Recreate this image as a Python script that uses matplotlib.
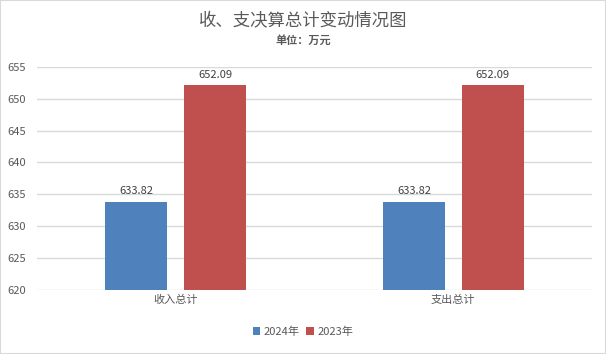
import numpy as np
import matplotlib
matplotlib.use("Agg")
import matplotlib.pyplot as plt
from matplotlib.patches import Rectangle

plt.rcParams['font.family'] = ['Noto Sans CJK SC', 'DejaVu Sans']

categories = ["收入总计", "支出总计"]
series_names = ["2024年", "2023年"]
values_2024 = [633.82, 633.82]
values_2023 = [652.09, 652.09]
colors = ["#4F81BD", "#C0504D"]

text_color = "#595959"
grid_color = "#D9D9D9"

fig = plt.figure(figsize=(6.06, 3.54), dpi=100)
ax = fig.add_axes([0.061, 0.181, 0.916, 0.630])

x = np.arange(len(categories))
width = 0.223
offset = 0.142

for vals, name, color, sign in [(values_2024, series_names[0], colors[0], -1),
                                (values_2023, series_names[1], colors[1], 1)]:
    bars = ax.bar(x + sign * offset, vals, width, color=color, label=name, zorder=3)
    for b, v in zip(bars, vals):
        ax.text(b.get_x() + b.get_width() / 2, v + 0.9, f"{v:.2f}",
                ha="center", va="bottom", fontsize=8, color="#404040")

ax.set_ylim(620, 655)
ax.set_yticks(np.arange(620, 656, 5))
ax.set_xlim(-0.5, 1.5)
ax.set_xticks(x)
ax.set_xticklabels(categories)
ax.tick_params(axis="both", length=0, labelsize=8, colors=text_color)
ax.tick_params(axis="y", pad=8)
ax.grid(axis="y", color=grid_color, linewidth=1, zorder=0)
for s in ax.spines.values():
    s.set_visible(False)

fig.text(0.5, 0.94, "收、支决算总计变动情况图", ha="center", va="center",
         fontsize=12.5, color=text_color)
fig.text(0.5, 0.885, "单位：万元", ha="center", va="center",
         fontsize=8, fontweight="bold", color=text_color)

fig.legend(loc="center", bbox_to_anchor=(0.5, 0.062), ncol=2, frameon=False,
           fontsize=8, handlelength=0.7, handleheight=0.7, handletextpad=0.3,
           columnspacing=0.6, labelcolor=text_color)

fig.patches.append(Rectangle((0, 0), 1, 1, transform=fig.transFigure,
                             fill=False, edgecolor="#D9D9D9", linewidth=1.5))

fig.savefig("out.png", dpi=100)
